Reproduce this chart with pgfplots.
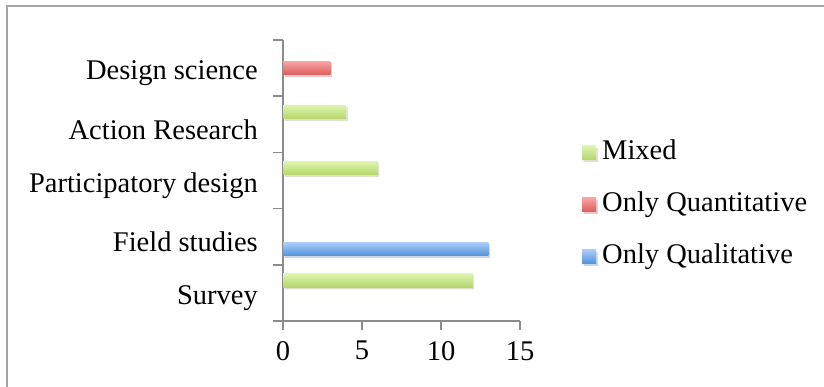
\documentclass[border=0pt]{standalone}
\usepackage{pgfplots}
\pgfplotsset{compat=1.18}
\usepackage{fontspec}
\setmainfont{Liberation Serif}
\usetikzlibrary{shadows}
\definecolor{axisgray}{RGB}{140,140,140}
\definecolor{framegray}{RGB}{165,165,165}
\definecolor{gtop}{RGB}{222,246,175}
\definecolor{gbot}{RGB}{182,214,108}
\definecolor{rtop}{RGB}{250,165,165}
\definecolor{rbot}{RGB}{222,92,92}
\definecolor{btop}{RGB}{170,205,252}
\definecolor{bbot}{RGB}{82,146,218}
\pgfplotsset{
  mixedbar/.style={draw=none, top color=gtop, bottom color=gbot, bar shift=12.5pt,
    drop shadow={shadow xshift=1.5pt, shadow yshift=-2pt, opacity=0.2}},
  quantbar/.style={draw=none, top color=rtop, bottom color=rbot, bar shift=0pt,
    drop shadow={shadow xshift=1.5pt, shadow yshift=-2pt, opacity=0.2}},
  qualbar/.style={draw=none, top color=btop, bottom color=bbot, bar shift=-12.5pt,
    drop shadow={shadow xshift=1.5pt, shadow yshift=-2pt, opacity=0.2}},
}
\begin{document}
\begin{tikzpicture}
\useasboundingbox (0,0) rectangle (824pt,387pt);
\fill[white] (0,0) rectangle (824pt,387pt);
\draw[framegray, line width=2pt] (7pt,0) -- (7pt,381pt) -- (824pt,381pt);
\begin{axis}[
  at={(283pt,66pt)}, anchor=south west,
  scale only axis, width=237pt, height=281pt,
  xbar, bar width=13.5pt,
  xmin=0, xmax=15, ymin=0.5, ymax=5.5,
  axis x line*=bottom, axis y line*=left,
  axis line style={axisgray, line width=1.5pt, -},
  every tick/.style={axisgray, line width=1.5pt},
  tick align=outside,
  xtick={0,5,10,15},
  major tick length=9pt,
  ytick={1,2,3,4,5},
  yticklabels={Survey, Field studies, Participatory design, Action Research, Design science},
  minor ytick={0.5,1.5,2.5,3.5,4.5,5.5},
  minor tick length=10pt,
  major y tick style={draw=none},
  /pgf/number format/assume math mode=true,
  tick label style={font=\fontsize{28.5}{32}\selectfont, text=black, inner sep=0pt},
  yticklabel style={xshift=-16pt, yshift=-5pt},
  xticklabel style={yshift=-11pt},
  legend style={draw=none, fill=none, inner sep=0pt, anchor=west,
    at={(axis description cs:1.2616,0.414)},
    font=\fontsize{28.5}{32}\selectfont, row sep=27pt, column sep=6pt,
    nodes={inner sep=0pt, text height=19pt, text depth=6pt}},
  legend cell align=left,
  legend image code/.code={\path[#1, draw=none] (0pt,-7pt) rectangle (14pt,7pt);},
]
\addplot[mixedbar] coordinates {(12,1)};
\addlegendentry{Mixed}
\addplot[quantbar] coordinates {(3,5)};
\addlegendentry{Only Quantitative}
\addplot[qualbar] coordinates {(13,2)};
\addlegendentry{Only Qualitative}
\addplot[mixedbar, forget plot] coordinates {(6,3)};
\addplot[mixedbar, forget plot] coordinates {(4,4)};
\end{axis}
\end{tikzpicture}
\end{document}
